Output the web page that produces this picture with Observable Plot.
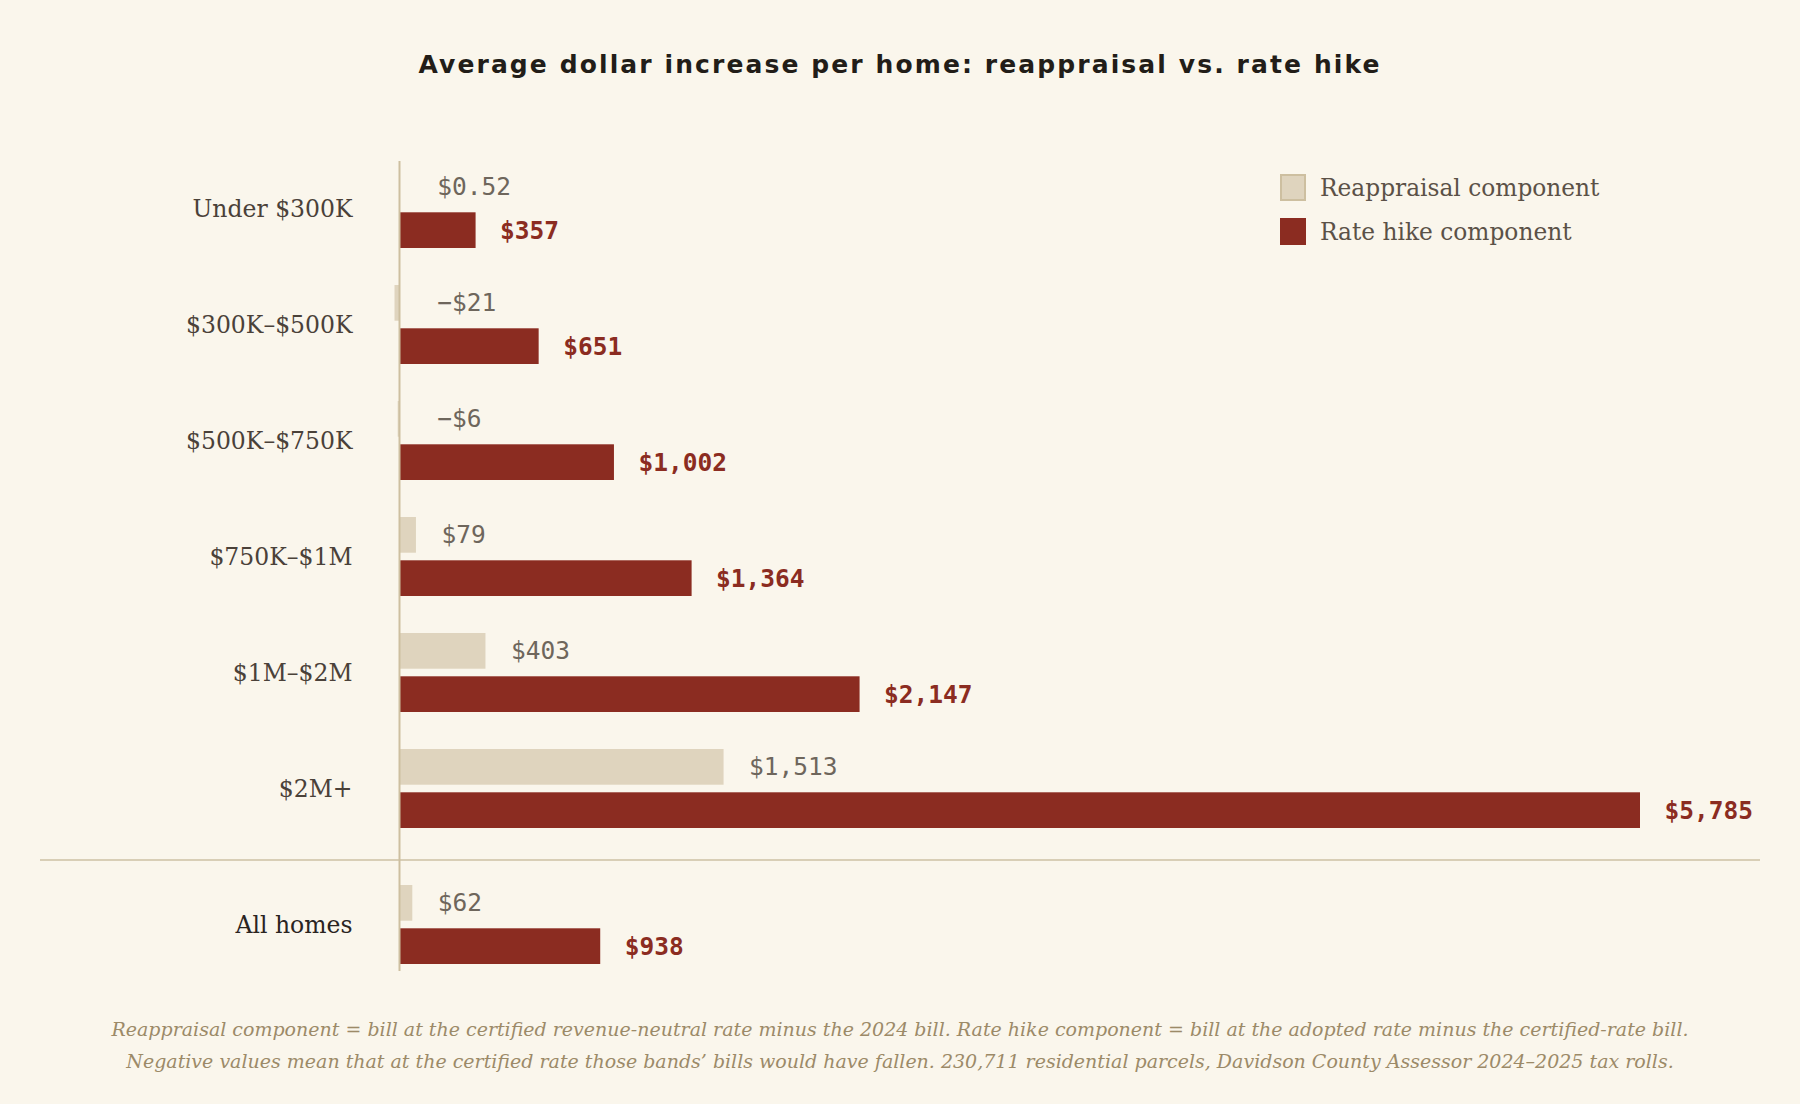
<!DOCTYPE html>
<html>
<head>
<meta charset="utf-8">
<script src="https://cdn.jsdelivr.net/npm/d3@7"></script>
<script src="https://cdn.jsdelivr.net/npm/@observablehq/plot@0.6"></script>
<style>
  html, body { margin: 0; padding: 0; background: #FAF6EC; }
  #wrap { position: relative; width: 1800px; height: 1104px; background: #FAF6EC; overflow: hidden; }
  #title { position: absolute; left: 0; width: 1800px; top: 50px; text-align: center;
    font-family: "DejaVu Sans", sans-serif; font-weight: bold; font-size: 25px; letter-spacing: 2.1px; color: #221d18; }
  #chart { position: absolute; left: 0; top: 0; }
  #legend { position: absolute; left: 1280px; top: 165px; font-family: "DejaVu Serif", serif; font-size: 23.3px; color: #5b5147; }
  .li { display: flex; align-items: center; height: 44px; }
  .sw { width: 26px; height: 27px; box-sizing: border-box; margin-right: 14px; }
  #caption { position: absolute; left: 0; width: 1800px; top: 1013px; text-align: center;
    font-family: "DejaVu Serif", serif; font-style: italic; font-size: 19px; line-height: 32px; color: #9C8A68; }
</style>
</head>
<body>
<div id="wrap">
  <div id="chart"></div>
  <div id="title">Average dollar increase per home: reappraisal vs. rate hike</div>
  <div id="legend"></div>
  <div id="caption">Reappraisal component = bill at the certified revenue-neutral rate minus the 2024 bill. Rate hike component = bill at the adopted rate minus the certified-rate bill.<br>Negative values mean that at the certified rate those bands’ bills would have fallen. 230,711 residential parcels, Davidson County Assessor 2024–2025 tax rolls.</div>
</div>
<script>
// ---- data ----
const bands = ["Under $300K", "$300K–$500K", "$500K–$750K", "$750K–$1M", "$1M–$2M", "$2M+", "All homes"];
const reappraisal = [0.52, -21, -6, 79, 403, 1513, 62];
const rateHike = [357, 651, 1002, 1364, 2147, 5785, 938];
const seriesNames = ["Reappraisal component", "Rate hike component"];
const seriesColors = ["#DFD4BE", "#8B2C21"];

// ---- build ----
const rows = bands.map((b, i) => ({band: b, reap: reappraisal[i], rate: rateHike[i]}));
const mainRows = rows.slice(0, 6);
const totalRows = rows.slice(6);

const fmt = v => {
  const a = Math.abs(v);
  const s = a < 1 ? d3.format(".2f")(a) : d3.format(",")(a);
  return (v < 0 ? "−" : "") + "$" + s;
};

const bandInset = 43.3;
const monoFont = "'DejaVu Sans Mono', monospace";

function rowMarks(data, dy, labelColor) {
  return [
    Plot.barX(data, {x1: 0, x2: "reap", y: "band", fill: seriesColors[0], insetBottom: bandInset, dy}),
    Plot.barX(data, {x1: 0, x2: "rate", y: "band", fill: seriesColors[1], insetTop: bandInset, dy}),
    Plot.text(data, {x: d => Math.max(d.reap, 60), y: "band", text: d => fmt(d.reap), dx: 25, dy: dy - 21.7,
      textAnchor: "start", fill: "#6E665C", fontSize: 24.5, fontFamily: monoFont}),
    Plot.text(data, {x: "rate", y: "band", text: d => fmt(d.rate), dx: 24, dy: dy + 21.7,
      textAnchor: "start", fill: "#8B2C21", fontSize: 24.5, fontWeight: "bold", fontFamily: monoFont}),
    Plot.axisY(data.map(d => d.band), {tickSize: 0, tickPadding: 47, dy, fontSize: 23.5,
      fontFamily: "'DejaVu Serif', serif", color: labelColor, anchor: "left", label: null})
  ];
}

const chart = Plot.plot({
  width: 1800,
  height: 1104,
  marginLeft: 399,
  marginRight: 160,
  marginTop: 151,
  marginBottom: 141,
  style: {background: "transparent", overflow: "visible"},
  x: {domain: [0, d3.max(rateHike)], axis: null},
  y: {domain: bands, paddingInner: 0.316, paddingOuter: 0.158, axis: null},
  marks: [
    Plot.ruleY(["All homes"], {y: d => d, dy: -45, insetLeft: -359, insetRight: -120, stroke: "#D8CEB6", strokeWidth: 2}),
    ...rowMarks(mainRows, 0, "#4A4139"),
    ...rowMarks(totalRows, 20, "#2A241F"),
    Plot.ruleX([0], {stroke: "#CDBFA0", strokeWidth: 2, insetTop: 10, insetBottom: -8})
  ]
});
document.getElementById("chart").appendChild(chart);

// ---- legend ----
const legend = document.getElementById("legend");
seriesNames.forEach((name, i) => {
  const li = document.createElement("div");
  li.className = "li";
  const sw = document.createElement("div");
  sw.className = "sw";
  sw.style.background = seriesColors[i];
  if (i === 0) sw.style.border = "2px solid #CDBFA0";
  const t = document.createElement("span");
  t.textContent = name;
  li.appendChild(sw);
  li.appendChild(t);
  legend.appendChild(li);
});
</script>
</body>
</html>
